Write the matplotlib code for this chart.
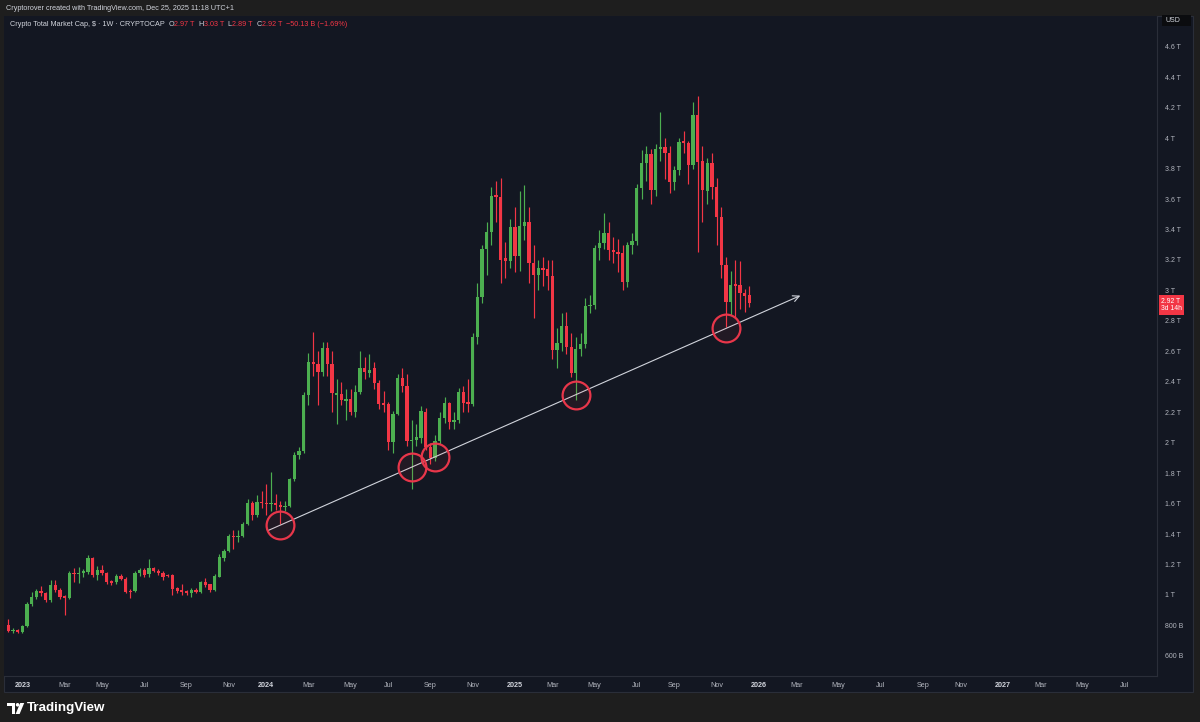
import numpy as np
import pandas as pd
import matplotlib
matplotlib.use("Agg")
import matplotlib.pyplot as plt
import matplotlib.dates as mdates
from matplotlib.patches import Rectangle, Polygon, Ellipse
from matplotlib.transforms import blended_transform_factory

plt.rcParams['font.family'] = ['Liberation Sans', 'DejaVu Sans']

PANE = "#131722"; FRAME = "#1e1e1e"; SEP = "#2a2e39"
UP = "#4caf50"; DOWN = "#f23645"; TXT = "#b2b5be"; TXT2 = "#d1d4dc"
RING = "#e8364a"; TREND = "#d1d4dc"
W, H = 1200, 722

# weekly candles of CRYPTOCAP:TOTAL, first week starting 2022-12-12 (values in $T)
first_week = "2022-12-12"
opens = [0.803, 0.766, 0.772, 0.757, 0.796, 0.941, 0.989, 1.028, 1.011, 0.967,
         1.066, 1.033, 0.992, 0.978, 1.142, 1.138, 1.146, 1.150, 1.241, 1.131,
         1.164, 1.146, 1.090, 1.085, 1.125, 1.107, 1.025, 1.028, 1.146, 1.164,
         1.135, 1.175, 1.160, 1.146, 1.131, 1.131, 1.044, 1.033, 1.026, 1.015,
         1.033, 1.022, 1.087, 1.070, 1.033, 1.120, 1.241, 1.291, 1.387, 1.383,
         1.387, 1.466, 1.606, 1.525, 1.613, 1.602, 1.598, 1.602, 1.589, 1.576,
         1.587, 1.760, 1.919, 1.945, 2.313, 2.532, 2.515, 2.466, 2.620, 2.515,
         2.313, 2.317, 2.276, 2.290, 2.204, 2.335, 2.488, 2.460, 2.488, 2.390,
         2.258, 2.254, 2.007, 2.188, 2.428, 2.372, 2.013, 2.020, 2.030, 2.204,
         1.970, 1.900, 2.013, 2.164, 2.259, 2.138, 2.148, 2.335, 2.264, 2.252,
         2.696, 2.958, 3.275, 3.385, 3.625, 3.615, 3.210, 3.195, 3.418, 3.226,
         3.423, 3.451, 3.182, 3.101, 3.145, 3.138, 3.095, 2.609, 2.653, 2.766,
         2.626, 2.456, 2.613, 2.648, 2.898, 2.904, 3.276, 3.313, 3.375, 3.265,
         3.254, 3.243, 3.057, 3.298, 3.327, 3.670, 3.839, 3.896, 3.659, 3.926,
         3.940, 3.900, 3.714, 3.790, 3.983, 3.966, 3.823, 4.152, 3.850, 3.650,
         3.835, 3.680, 3.484, 3.167, 2.926, 3.040, 3.035, 2.980, 2.970]
highs = [0.840, 0.782, 0.778, 0.805, 0.955, 1.022, 1.040, 1.059, 1.022, 1.098,
         1.100, 1.045, 1.000, 1.160, 1.175, 1.186, 1.170, 1.263, 1.252, 1.190,
         1.200, 1.152, 1.100, 1.135, 1.140, 1.120, 1.040, 1.160, 1.180, 1.180,
         1.236, 1.182, 1.170, 1.155, 1.140, 1.135, 1.050, 1.070, 1.035, 1.045,
         1.045, 1.095, 1.110, 1.075, 1.140, 1.270, 1.300, 1.400, 1.426, 1.426,
         1.480, 1.630, 1.620, 1.655, 1.680, 1.729, 1.810, 1.660, 1.620, 1.620,
         1.770, 1.940, 1.970, 2.330, 2.590, 2.729, 2.600, 2.660, 2.660, 2.600,
         2.420, 2.400, 2.350, 2.350, 2.380, 2.600, 2.560, 2.580, 2.530, 2.410,
         2.340, 2.270, 2.210, 2.450, 2.490, 2.450, 2.149, 2.120, 2.240, 2.230,
         2.000, 2.050, 2.200, 2.300, 2.270, 2.200, 2.360, 2.370, 2.420, 2.720,
         3.050, 3.300, 3.450, 3.680, 3.720, 3.735, 3.320, 3.470, 3.545, 3.655,
         3.690, 3.550, 3.300, 3.200, 3.220, 3.200, 3.200, 2.750, 2.850, 2.860,
         2.720, 2.696, 2.720, 2.950, 2.970, 3.300, 3.400, 3.506, 3.450, 3.350,
         3.340, 3.300, 3.320, 3.380, 3.700, 3.920, 3.950, 3.930, 3.960, 4.173,
         4.000, 3.950, 3.820, 4.000, 4.050, 3.980, 4.240, 4.276, 3.950, 3.870,
         3.900, 3.740, 3.550, 3.220, 3.130, 3.200, 3.190, 3.010, 3.030]
lows = [0.758, 0.752, 0.748, 0.750, 0.790, 0.925, 0.975, 0.992, 0.955, 0.955,
        1.020, 0.975, 0.869, 0.972, 1.087, 1.080, 1.120, 1.140, 1.120, 1.100,
        1.130, 1.075, 1.065, 1.070, 1.100, 1.010, 0.980, 1.020, 1.125, 1.120,
        1.120, 1.150, 1.130, 1.100, 1.115, 1.000, 1.015, 1.000, 1.000, 0.985,
        1.010, 1.010, 1.055, 1.020, 1.025, 1.115, 1.225, 1.280, 1.305, 1.350,
        1.380, 1.460, 1.490, 1.510, 1.570, 1.525, 1.550, 1.560, 1.465, 1.550,
        1.580, 1.750, 1.890, 1.935, 2.250, 2.440, 2.250, 2.440, 2.440, 2.200,
        2.120, 2.250, 2.150, 2.180, 2.170, 2.320, 2.420, 2.430, 2.350, 2.220,
        2.200, 1.950, 1.930, 2.180, 2.330, 1.980, 1.695, 1.980, 2.000, 1.950,
        1.860, 1.880, 1.990, 2.130, 2.090, 2.090, 2.130, 2.200, 2.200, 2.240,
        2.650, 2.920, 3.100, 3.300, 3.450, 3.050, 3.080, 3.150, 3.120, 3.130,
        3.330, 3.050, 2.820, 3.000, 3.030, 3.000, 2.550, 2.490, 2.600, 2.580,
        2.430, 2.280, 2.570, 2.620, 2.850, 2.880, 3.200, 3.270, 3.200, 3.180,
        3.120, 3.000, 3.020, 3.240, 3.300, 3.600, 3.720, 3.570, 3.620, 3.850,
        3.730, 3.640, 3.660, 3.760, 3.900, 3.700, 3.800, 3.250, 3.450, 3.570,
        3.600, 3.300, 3.080, 2.760, 2.840, 2.820, 2.880, 2.860, 2.890]
closes = [0.766, 0.772, 0.757, 0.796, 0.941, 0.989, 1.028, 1.011, 0.967, 1.066,
          1.033, 0.985, 0.978, 1.142, 1.138, 1.146, 1.156, 1.241, 1.131, 1.164,
          1.146, 1.087, 1.080, 1.125, 1.107, 1.022, 1.020, 1.146, 1.164, 1.131,
          1.175, 1.160, 1.142, 1.116, 1.125, 1.037, 1.028, 1.022, 1.015, 1.033,
          1.022, 1.087, 1.066, 1.033, 1.125, 1.248, 1.291, 1.387, 1.383, 1.390,
          1.466, 1.606, 1.525, 1.613, 1.602, 1.598, 1.605, 1.589, 1.576, 1.587,
          1.760, 1.919, 1.945, 2.313, 2.532, 2.515, 2.466, 2.620, 2.515, 2.324,
          2.324, 2.280, 2.290, 2.204, 2.335, 2.488, 2.462, 2.480, 2.390, 2.254,
          2.248, 2.007, 2.188, 2.428, 2.372, 2.013, 2.020, 2.035, 2.208, 1.970,
          1.900, 2.013, 2.164, 2.259, 2.138, 2.148, 2.335, 2.259, 2.252, 2.696,
          2.958, 3.275, 3.385, 3.620, 3.615, 3.200, 3.195, 3.418, 3.226, 3.423,
          3.451, 3.182, 3.101, 3.145, 3.134, 3.095, 2.609, 2.653, 2.766, 2.626,
          2.456, 2.613, 2.648, 2.898, 2.904, 3.276, 3.313, 3.375, 3.265, 3.254,
          3.240, 3.057, 3.298, 3.327, 3.670, 3.839, 3.896, 3.659, 3.926, 3.940,
          3.900, 3.714, 3.790, 3.977, 3.966, 3.823, 4.152, 3.840, 3.660, 3.835,
          3.680, 3.484, 3.167, 2.926, 3.035, 3.030, 2.980, 2.965, 2.920]

# drawn support line and the touches marked with rings
trend_dates = ["2024-01-03", "2026-03-08"]
trend_vals = [1.422, 2.966]
touch_dates = ["2024-01-22", "2024-08-05", "2024-09-09", "2025-04-07", "2025-11-17"]

price_ticks = [0.6, 0.8, 1.0, 1.2, 1.4, 1.6, 1.8, 2.0, 2.2, 2.4, 2.6, 2.8,
               3.0, 3.2, 3.4, 3.6, 3.8, 4.0, 4.2, 4.4, 4.6]

o = np.array(opens); h = np.array(highs); l = np.array(lows); c = np.array(closes)
weeks = pd.date_range(first_week, periods=len(c), freq="7D")
x = mdates.date2num(weeks)
x0 = x[0]

fig = plt.figure(figsize=(W / 100, H / 100), dpi=100, facecolor=FRAME)

def fx(px): return px / W
def fy(py): return 1 - py / H

# chart pane background (price + time axes)
fig.add_artist(Rectangle((fx(4), fy(692)), fx(1193 - 4), (692 - 16) / H, transform=fig.transFigure,
                         fc=PANE, ec=SEP, lw=0.8, zorder=0))

ax = fig.add_axes([fx(4), fy(676), fx(1157 - 4), (676 - 16) / H], facecolor=PANE)
for s in ("top", "left"):
    ax.spines[s].set_visible(False)
for s in ("right", "bottom"):
    ax.spines[s].set_color(SEP); ax.spines[s].set_linewidth(0.8)

ax.set_xlim(x0 - 0.917 * 7, x0 + 244.9 * 7)
ax.set_ylim(0.468, 4.802)

# candles
col = np.where(c >= o, UP, DOWN)
ax.vlines(x, l, h, colors=col, lw=0.85, zorder=2)
body_lo = np.minimum(o, c)
body_h = np.maximum(np.abs(c - o), 0.007)
ax.bar(x, body_h, bottom=body_lo, width=4.9, color=col, lw=0, zorder=3)

# trend line with arrow head
tx = mdates.date2num(pd.to_datetime(trend_dates))
ax.annotate("", xy=(tx[1], trend_vals[1]), xytext=(tx[0], trend_vals[0]),
            arrowprops=dict(arrowstyle="->,head_length=0.45,head_width=0.22", color=TREND, lw=0.8,
                            shrinkA=0, shrinkB=0), zorder=4)

# rings on the touches (they sit on the line)
cx = mdates.date2num(pd.to_datetime(touch_dates))
cy = np.interp(cx, tx, trend_vals)
ax.scatter(cx, cy, s=400, facecolors=(0.95, 0.21, 0.27, 0.07), edgecolors=RING, linewidths=1.6, zorder=5)

# price scale on the right
ax.yaxis.tick_right()
ax.set_yticks(price_ticks)
ax.set_yticklabels([f"{int(round(v * 1000))} B" if v < 1 else f"{v:g} T" for v in price_ticks])
ax.tick_params(axis="y", length=0, pad=6, labelsize=5.0, labelcolor=TXT)

# time scale: first weekly bar of every other month
ticks, labels = [], []
for m in pd.date_range("2023-01-01", "2027-07-01", freq="2MS"):
    d = m + pd.Timedelta(days=(7 - m.weekday()) % 7)
    ticks.append(mdates.date2num(d))
    labels.append(str(m.year) if m.month == 1 else m.strftime("%b"))
ax.set_xticks(ticks)
ax.set_xticklabels(labels)
ax.tick_params(axis="x", length=0, pad=4, labelsize=5.2, labelcolor=TXT)
for t in ax.get_xticklabels():
    if t.get_text().isdigit():
        t.set_fontweight("bold"); t.set_color(TXT2)

# last price tag
bt = blended_transform_factory(ax.transAxes, ax.transData)
ax.annotate(f"{c[-1]:.2f} T\n3d 14h", xy=(1.0, c[-1]), xycoords=bt, xytext=(3.0, 3.4),
            textcoords="offset points", ha="left", va="top", fontsize=4.9, color="#ffffff",
            linespacing=1.05, annotation_clip=False,
            bbox=dict(boxstyle="square,pad=0.35", fc=DOWN, ec="none"))

# USD badge
fig.add_artist(Rectangle((fx(1162), fy(26)), fx(29), 11 / H, transform=fig.transFigure,
                         fc="#0b0c0f", ec="none", zorder=5))
fig.text(fx(1166), fy(20.5), "USD", fontsize=5.0, color=TXT2, va="center", zorder=6)

# header lines
fig.text(fx(6), fy(9), "Cryptorover created with TradingView.com, Dec 25, 2025 11:18 UTC+1",
         fontsize=5.2, color=TXT2, va="center")
rend = fig.canvas.get_renderer()
xp = 10
pieces = [("Crypto Total Market Cap, $ · 1W · CRYPTOCAP", TXT2), ("  O", TXT2), ("2.97 T", DOWN),
          ("  H", TXT2), ("3.03 T", DOWN), ("  L", TXT2), ("2.89 T", DOWN), ("  C", TXT2),
          ("2.92 T", DOWN), ("  \u221250.13 B (\u22121.69%)", DOWN)]
for s, colr in pieces:
    t = fig.text(fx(xp), fy(24), s, fontsize=5.2, color=colr, va="center")
    xp += t.get_window_extent(rend).width

# TradingView footer logo
fig.add_artist(Polygon([(fx(7), fy(703)), (fx(15), fy(703)), (fx(15), fy(714)), (fx(11.6), fy(714)),
                        (fx(11.6), fy(706.4)), (fx(7), fy(706.4))], closed=True,
                       transform=fig.transFigure, fc="#ffffff", ec="none"))
fig.add_artist(Ellipse((fx(17.6), fy(704.8)), 3.6 / W, 3.6 / H, transform=fig.transFigure,
                       fc="#ffffff", ec="none"))
fig.add_artist(Polygon([(fx(20.2), fy(703)), (fx(24.2), fy(703)), (fx(19.6), fy(714)), (fx(15.6), fy(714))],
                       closed=True, transform=fig.transFigure, fc="#ffffff", ec="none"))
fig.text(fx(27), fy(708.5), "TradingView", fontsize=9.6, fontweight="bold", color="#ffffff", va="center")

fig.savefig("out.png", dpi=100, facecolor=FRAME)
